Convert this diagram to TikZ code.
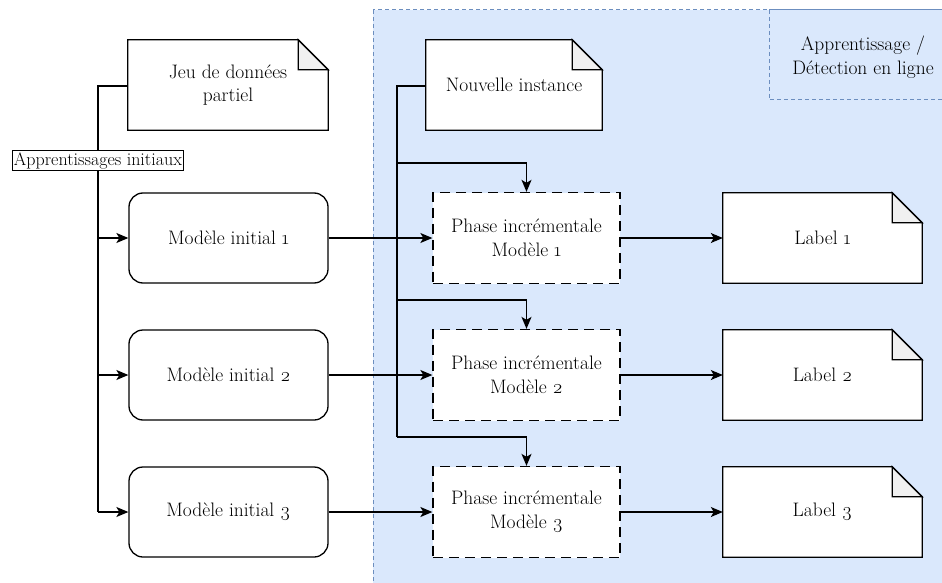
\documentclass[tikz,border=0pt]{standalone}
\usepackage{fontspec}
\setmainfont{Latin Modern Roman}[Numbers=OldStyle]
\usetikzlibrary{arrows.meta}
\definecolor{zonefill}{HTML}{DAE8FC}
\definecolor{zonedraw}{HTML}{6C8EBF}
\definecolor{foldgray}{HTML}{F0F0F0}
\pgfdeclarelayer{zonelayer}
\pgfdeclarelayer{bg}
\pgfsetlayers{zonelayer,bg,main}
\begin{document}
\begin{tikzpicture}[x=1pt,y=-1pt,
  txt/.style={font=\fontsize{19.5}{23.5}\selectfont, align=center},
  notebox/.style={txt, minimum width=200pt, minimum height=90pt, inner sep=0pt},
  modelbox/.style={txt, draw, line width=1.3pt, rounded corners=14pt, fill=white,
    minimum width=199pt, minimum height=90pt, inner sep=0pt},
  phasebox/.style={txt, draw, line width=1.3pt, dash pattern=on 10pt off 6pt, fill=white,
    minimum width=187pt, minimum height=91pt, inner sep=0pt},
  conn/.style={line width=1.3pt},
  arr/.style={conn, -{Stealth[length=12pt,width=10pt,inset=3pt]}},
  zone/.style={draw=zonedraw, line width=1pt, dash pattern=on 4pt off 3pt}
]
\useasboundingbox (0,0) rectangle (942,583);
\clip (0,0) rectangle (942,583);

% online learning zone
\begin{pgfonlayer}{zonelayer}
\fill[white] (0,0) rectangle (942,583);
\path[zone, fill=zonefill] (373,10) rectangle (960,600);
\path[zone] (769,10) rectangle (960,100);
\end{pgfonlayer}
\node[txt] (zonelbl) at (863,57) {Apprentissage /\\Détection en ligne};

% note-shaped nodes
\node[notebox] (jeu)  at (228,85)  {Jeu de données\\partiel};
\node[notebox, minimum width=176pt] (nouv) at (514,85) {Nouvelle instance};
\node[notebox, minimum width=199pt] (lab1) at (822.5,238) {Label 1};
\node[notebox, minimum width=199pt] (lab2) at (822.5,375) {Label 2};
\node[notebox, minimum width=199pt] (lab3) at (822.5,512) {Label 3};

\begin{pgfonlayer}{bg}
\foreach \n in {jeu,nouv,lab1,lab2,lab3}{
  \draw[line width=1.3pt, fill=white, line join=miter]
    (\n.south west) -- (\n.north west) -- ([xshift=-30pt]\n.north east)
    -- ([yshift=-30pt]\n.north east) -- (\n.south east) -- cycle;
  \draw[line width=1.3pt, fill=foldgray, line join=miter]
    ([xshift=-30pt]\n.north east) -- ([xshift=-30pt,yshift=-30pt]\n.north east)
    -- ([yshift=-30pt]\n.north east) -- cycle;
}
\end{pgfonlayer}

% initial models
\node[modelbox] (m1) at (228.5,238) {Modèle initial 1};
\node[modelbox] (m2) at (228.5,375) {Modèle initial 2};
\node[modelbox] (m3) at (228.5,512) {Modèle initial 3};

% incremental phases
\node[phasebox] (p1) at (526.5,238) {Phase incrémentale\\Modèle 1};
\node[phasebox] (p2) at (526.5,375) {Phase incrémentale\\Modèle 2};
\node[phasebox] (p3) at (526.5,512) {Phase incrémentale\\Modèle 3};

% initial training branch
\coordinate (ltrunk) at (98,86);
\coordinate (lend) at (98,512);
\draw[conn] (jeu.west |- ltrunk) -- (ltrunk) -- (lend);
\draw[arr] (98,238) -- (m1.west);
\draw[arr] (98,375) -- (m2.west);
\draw[arr] (lend) -- (m3.west);
\node[draw, fill=white, line width=0.8pt, inner sep=1.5pt,
  font=\fontsize{18}{21}\selectfont] (apinit) at (98,160.5) {Apprentissages initiaux};

% new instance branch
\coordinate (rtrunk) at (397,86);
\draw[conn] (nouv.west |- rtrunk) -- (rtrunk) -- (397,437);
\draw[arr] (397,163) -| (p1.north);
\draw[arr] (397,300) -| (p2.north);
\draw[arr] (397,437) -| (p3.north);

% model to phase to label
\foreach \i in {1,2,3}{
  \draw[arr] (m\i.east) -- (p\i.west);
  \draw[arr] (p\i.east) -- (lab\i.west);
}
\end{tikzpicture}
\end{document}
